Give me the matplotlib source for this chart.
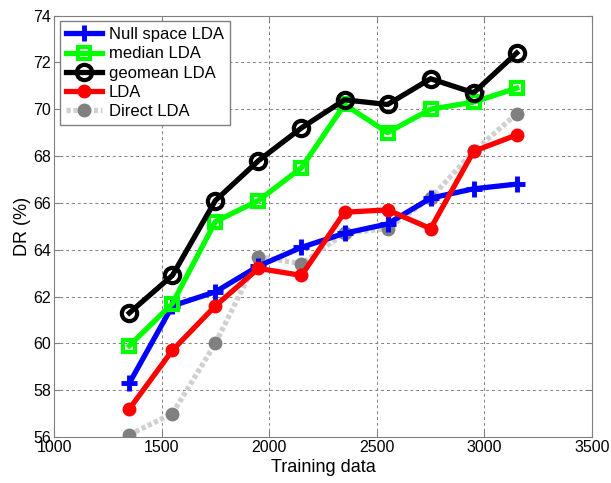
import matplotlib
matplotlib.use("Agg")
import matplotlib.pyplot as plt

plt.rcParams['font.family'] = ['Liberation Sans', 'DejaVu Sans']

training_data = [1350, 1550, 1750, 1950, 2150, 2350, 2550, 2750, 2950, 3150]
null_space_lda = [58.3, 61.6, 62.2, 63.3, 64.1, 64.7, 65.1, 66.2, 66.6, 66.8]
median_lda = [59.9, 61.7, 65.2, 66.1, 67.5, 70.2, 69.0, 70.0, 70.3, 70.9]
geomean_lda = [61.3, 62.9, 66.1, 67.8, 69.2, 70.4, 70.2, 71.3, 70.7, 72.4]
lda = [57.2, 59.7, 61.6, 63.2, 62.9, 65.6, 65.7, 64.9, 68.2, 68.9]
direct_lda = [56.1, 57.0, 60.0, 63.7, 63.4, 64.7, 64.9, 66.2, 68.2, 69.8]

fig = plt.figure(figsize=(6.11, 4.83), dpi=100)
ax = fig.add_axes([0.0884, 0.0952, 0.8805, 0.8727])

lw = 3.8
ax.plot(training_data, direct_lda, color='#d0d0d0', lw=lw, ls=(0, (0.8, 0.5)),
        marker='o', ms=9, mfc='#808080', mec='#808080', label='Direct LDA', zorder=2)
ax.plot(training_data, null_space_lda, color='#0000ff', lw=lw,
        marker='+', ms=11, mew=3.5, label='Null space LDA', zorder=3)
ax.plot(training_data, median_lda, color='#00ff00', lw=lw,
        marker='s', ms=9, mfc='none', mew=3, label='median LDA', zorder=3)
ax.plot(training_data, geomean_lda, color='black', lw=lw,
        marker='o', ms=11, mfc='none', mew=3, label='geomean LDA', zorder=4)
ax.plot(training_data, lda, color='#ff0000', lw=lw,
        marker='o', ms=9, label='LDA', zorder=3)

ax.set_xlim(1000, 3500)
ax.set_ylim(56, 74)
ax.set_xticks(range(1000, 3501, 500))
ax.set_yticks(range(56, 75, 2))
ax.grid(True, ls=(0, (3, 3)), color='#808080', lw=0.7)
ax.set_axisbelow(True)
for s in ax.spines.values():
    s.set_color('#808080')
ax.tick_params(direction='in', length=4, color='#808080', labelsize=11.5,
               top=True, right=True, pad=2)
ax.set_xlabel('Training data', fontsize=13, labelpad=3)
ax.set_ylabel('DR (%)', fontsize=13, labelpad=2)

handles, labels = ax.get_legend_handles_labels()
order = ['Null space LDA', 'median LDA', 'geomean LDA', 'LDA', 'Direct LDA']
hmap = dict(zip(labels, handles))
leg = ax.legend([hmap[k] for k in order], order, loc='upper left',
                fontsize=12, handlelength=2.2, fancybox=False, framealpha=1,
                edgecolor='#808080', borderpad=0.35, labelspacing=0.25,
                handletextpad=0.4, borderaxespad=0.35)
leg.get_frame().set_linewidth(1.0)

fig.savefig('out.png', dpi=100)
